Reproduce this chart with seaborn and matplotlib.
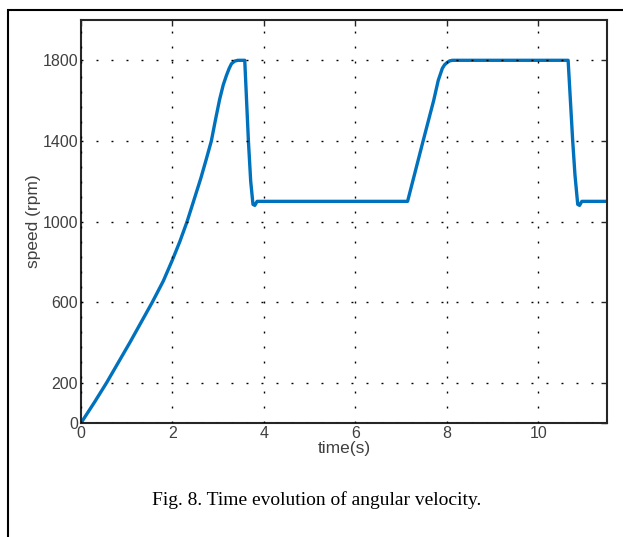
import matplotlib
matplotlib.use("Agg")
import matplotlib.pyplot as plt
import seaborn as sns
import pandas as pd
from matplotlib.patches import Rectangle

# Data
time_s = [0.0, 0.3, 0.56, 1.07, 1.56, 1.8, 2.0, 2.16, 2.32, 2.46, 2.62, 2.74,
          2.85, 2.94, 3.03, 3.11, 3.18, 3.24, 3.29, 3.36, 3.43, 3.58,
          3.62, 3.66, 3.71, 3.76, 3.8, 3.85,
          7.14, 7.31, 7.48, 7.71, 7.81, 7.9, 7.95, 8.01, 8.06, 8.12,
          10.65, 10.7, 10.75, 10.8, 10.86, 10.9, 10.95, 11.5]
speed_rpm = [0, 105, 200, 400, 600, 705, 810, 900, 1000, 1100, 1215, 1310,
             1400, 1505, 1605, 1678, 1725, 1760, 1783, 1796, 1800, 1800,
             1600, 1400, 1200, 1085, 1080, 1100,
             1100, 1250, 1400, 1600, 1700, 1760, 1778, 1790, 1797, 1800,
             1800, 1600, 1400, 1230, 1085, 1080, 1100, 1100]
x_ticks = [0, 2, 4, 6, 8, 10]
y_ticks = [0, 200, 600, 1000, 1400, 1800]

df = pd.DataFrame({"time": time_s, "speed": speed_rpm})

sns.set_theme(style="white")
plt.rcParams['font.family'] = ['Liberation Sans', 'DejaVu Sans']

fig = plt.figure(figsize=(6.23, 5.37), dpi=100)
ax = fig.add_axes([81 / 623, 1 - 423 / 537, (607 - 81) / 623, (423 - 20) / 537])

sns.lineplot(data=df, x="time", y="speed", ax=ax, color="#0072BD",
             linewidth=2.4, sort=False, solid_joinstyle="round",
             solid_capstyle="round")

ax.set_xlim(0, 11.5)
ax.set_ylim(0, 2000)
ax.set_xticks(x_ticks)
ax.set_yticks(y_ticks)
ax.set_xticklabels([str(v) for v in x_ticks])
ax.set_yticklabels([str(v) for v in y_ticks])

ax.grid(True, color="black", linestyle=(0, (1.4, 9.4)), linewidth=1.0)
ax.set_axisbelow(False)

for s in ax.spines.values():
    s.set_visible(True)
    s.set_linewidth(1.5)
    s.set_color("#262626")

ax.tick_params(direction="in", length=4, width=1.0, top=True, right=True,
               colors="#262626", labelcolor="#404040", labelsize=11.5,
               pad=2)
ax.set_xlabel("time(s)", fontsize=12.5, color="#404040", labelpad=0)
ax.set_ylabel("speed (rpm)", fontsize=12.5, color="#404040", labelpad=1)

fig.text(317 / 623, 1 - 500 / 537, "Fig. 8. Time evolution of angular velocity.",
         ha="center", va="center", fontsize=14, family="Liberation Serif",
         color="black")

fig.patches.append(Rectangle((8 / 623, -0.1), 1.2, 1 - 10 / 537 + 0.1,
                             transform=fig.transFigure, fill=False,
                             edgecolor="black", linewidth=1.5))

fig.savefig("out.png", dpi=100)
